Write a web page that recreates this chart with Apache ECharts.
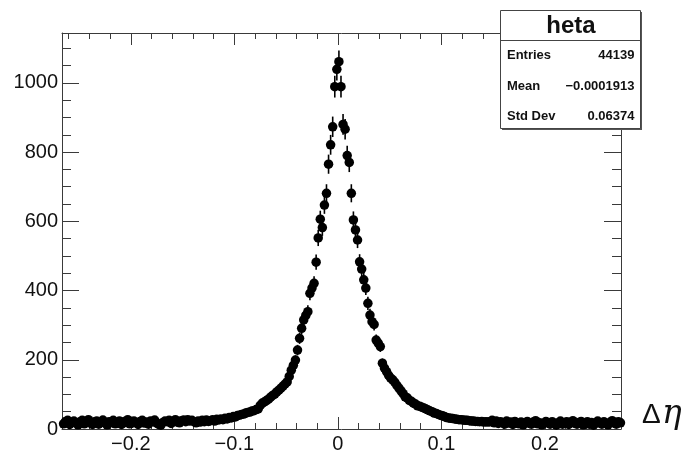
<!DOCTYPE html>
<html>
<head>
<meta charset="utf-8">
<script src="https://cdn.jsdelivr.net/npm/echarts@6/dist/echarts.min.js"></script>
<style>
  html, body { margin: 0; padding: 0; background: #ffffff; }
  #main { width: 689px; height: 456px; }
</style>
</head>
<body>
<div id="main"></div>
<script>
// Histogram "heta": 270 bins of width 0.002 starting at -0.266
const histTitle = 'heta';
const statLabels = ['Entries', 'Mean', 'Std Dev'];
const statValues = ['44139', '\u22120.0001913', '0.06374'];
const axisTitle = ['\u0394', '\u03B7'];

const binLow = -0.266;
const binWidth = 0.002;

// bins 0..63
const countsTailLeft = [
  15, 22, 25, 13, 19, 23, 17, 12,
  21, 25, 15, 19, 27, 17, 13, 21,
  23, 14, 19, 26, 17, 12, 21, 18,
  25, 15, 17, 23, 13, 21, 19, 27,
  15, 17, 23, 19, 13, 22, 25, 17,
  20, 14, 23, 21, 26, 17, 13, 11,
  19, 23, 21, 25, 16, 22, 27, 20,
  18, 24, 26, 21, 27, 23, 25, 21
];
// bins 64..132
const countsRise = [
  18, 23, 20, 25, 21, 26, 22, 24, 27, 23,
  28, 26, 29, 27, 31, 29, 33, 32, 36, 35,
  39, 40, 42, 43, 46, 48, 49, 52, 53, 56,
  58, 68, 75, 78, 82, 86, 92, 97, 101, 107,
  112, 118, 124, 130, 136, 152, 170, 184, 199, 228,
  262, 291, 315, 328, 339, 392, 407, 421, 482, 552,
  606, 582, 647, 681, 765, 821, 873, 989, 1039
];
// bins 133..205
const countsFall = [
  1061, 989, 880, 866, 790, 770, 681, 604, 575, 546,
  483, 462, 431, 407, 363, 329, 310, 302, 257, 248,
  238, 190, 176, 166, 155, 147, 142, 135, 126, 118,
  110, 102, 93, 90, 83, 80, 75, 72, 67, 66,
  63, 61, 58, 55, 52, 50, 46, 45, 42, 40,
  38, 36, 33, 32, 31, 30, 29, 28, 27, 27,
  26, 25, 25, 24, 23, 23, 22, 22, 21, 22,
  20, 21, 20
];
// bins 206..269
const countsTailRight = [
  21, 25, 18, 23, 16, 21, 19, 14,
  23, 17, 20, 13, 22, 17, 15, 20,
  12, 18, 22, 16, 14, 20, 24, 15,
  18, 12, 16, 22, 18, 14, 21, 16,
  11, 18, 23, 14, 17, 21, 13, 19,
  24, 16, 14, 19, 22, 12, 17, 21,
  14, 19, 11, 17, 23, 18, 14, 21,
  16, 12, 19, 24, 17, 14, 21, 18
];

const xRange = [-0.2665, 0.2735];
const yRange = [0, 1144];
const xMajorTicks = [-0.2, -0.1, 0, 0.1, 0.2];
const xMinorTicks = [-0.26, -0.24, -0.22, -0.18, -0.16, -0.14, -0.12, -0.08, -0.06, -0.04, -0.02,
                     0.02, 0.04, 0.06, 0.08, 0.12, 0.14, 0.16, 0.18, 0.22, 0.24, 0.26];
const yMajorTicks = [0, 200, 400, 600, 800, 1000];
const yMinorTicks = [50, 100, 150, 250, 300, 350, 450, 500, 550, 650, 700, 750, 850, 900, 950, 1050, 1100];

// points at bin centres
const counts = countsTailLeft.concat(countsRise, countsFall, countsTailRight);
const points = counts.map((c, i) => [binLow + (i + 0.5) * binWidth, c]);

const FONT = "'Liberation Sans', Arial, Helvetica, sans-serif";
const FRAME = '#3a3a3a';
const INK = '#111111';

function fmtX(v) {
  return (v < 0 ? '\u2212' : '') + String(Math.abs(v));
}
function fmtY(v) {
  return String(v);
}

function xAxisDef(pos, ticks, len, withLine, withLabels) {
  return {
    type: 'value', position: pos, min: xRange[0], max: xRange[1],
    axisLine: { show: withLine, onZero: false, lineStyle: { color: FRAME, width: 1 } },
    axisTick: { show: true, inside: true, length: len, customValues: ticks,
                lineStyle: { color: FRAME, width: 1 } },
    axisLabel: withLabels
      ? { show: true, customValues: ticks, formatter: fmtX, fontFamily: FONT,
          fontSize: 20, color: INK, margin: 5 }
      : { show: false },
    splitLine: { show: false }
  };
}
function yAxisDef(pos, ticks, len, withLine, withLabels) {
  return {
    type: 'value', position: pos, min: yRange[0], max: yRange[1],
    axisLine: { show: withLine, onZero: false, lineStyle: { color: FRAME, width: 1 } },
    axisTick: { show: true, inside: true, length: len, customValues: ticks,
                lineStyle: { color: FRAME, width: 1 } },
    axisLabel: withLabels
      ? { show: true, customValues: ticks, formatter: fmtY, fontFamily: FONT,
          fontSize: 20, color: INK, margin: 4 }
      : { show: false },
    splitLine: { show: false }
  };
}

const chart = echarts.init(document.getElementById('main'), null, { renderer: 'canvas' });

const statRows = [];
const rowY = [55, 86.5, 116];
statLabels.forEach((lab, i) => {
  statRows.push({
    type: 'text', x: 507, y: rowY[i], z: 103,
    style: { text: lab, font: 'bold 13px ' + FONT, fill: INK, align: 'left', verticalAlign: 'middle' }
  });
  statRows.push({
    type: 'text', x: 634.5, y: rowY[i], z: 103,
    style: { text: statValues[i], font: 'bold 13px ' + FONT, fill: INK, align: 'right', verticalAlign: 'middle' }
  });
});

chart.setOption({
  animation: false,
  backgroundColor: '#ffffff',
  grid: { left: 62, right: 68, top: 33, bottom: 27, containLabel: false },
  xAxis: [
    xAxisDef('bottom', xMajorTicks, 12, true, true),
    xAxisDef('bottom', xMinorTicks, 6, false, false),
    xAxisDef('top', xMajorTicks, 12, true, false),
    xAxisDef('top', xMinorTicks, 6, false, false)
  ],
  yAxis: [
    yAxisDef('left', yMajorTicks, 17, true, true),
    yAxisDef('left', yMinorTicks, 9, false, false),
    yAxisDef('right', yMajorTicks, 17, true, false),
    yAxisDef('right', yMinorTicks, 9, false, false)
  ],
  series: [
    {
      // Poisson error bars
      type: 'custom',
      xAxisIndex: 0, yAxisIndex: 0,
      clip: false,
      data: points,
      encode: { x: 0, y: 1 },
      renderItem: function (params, api) {
        const x = api.value(0), y = api.value(1);
        const e = Math.sqrt(y);
        const top = api.coord([x, y + e]);
        const bot = api.coord([x, y - e]);
        return {
          type: 'line',
          shape: { x1: top[0], y1: top[1], x2: bot[0], y2: bot[1] },
          style: { stroke: '#000', lineWidth: 1.6 }
        };
      },
      z: 3
    },
    {
      type: 'scatter',
      xAxisIndex: 0, yAxisIndex: 0,
      data: points,
      symbol: 'circle',
      symbolSize: 9.5,
      clip: false,
      itemStyle: { color: '#000', opacity: 1 },
      z: 4
    }
  ],
  graphic: [
    { type: 'rect', z: 100, shape: { x: 502, y: 12, width: 140, height: 118 }, style: { fill: '#555' } },
    { type: 'rect', z: 101, shape: { x: 500.5, y: 10.5, width: 140, height: 118 },
      style: { fill: '#ffffff', stroke: '#444', lineWidth: 1 } },
    { type: 'line', z: 102, shape: { x1: 500.5, y1: 40.5, x2: 640.5, y2: 40.5 },
      style: { stroke: '#444', lineWidth: 1 } },
    { type: 'text', z: 103, x: 571, y: 26.5,
      style: { text: histTitle, font: 'bold 24px ' + FONT, fill: INK, align: 'center', verticalAlign: 'middle' } },
    ...statRows,
    { type: 'text', z: 103, x: 642, y: 415,
      style: { text: axisTitle[0], font: '28px ' + FONT, fill: INK, align: 'left', verticalAlign: 'middle' } },
    { type: 'text', z: 103, x: 662, y: 414,
      style: { text: axisTitle[1], font: 'italic 33px "DejaVu Serif", serif', fill: INK, align: 'left', verticalAlign: 'middle' } }
  ]
});
</script>
</body>
</html>
